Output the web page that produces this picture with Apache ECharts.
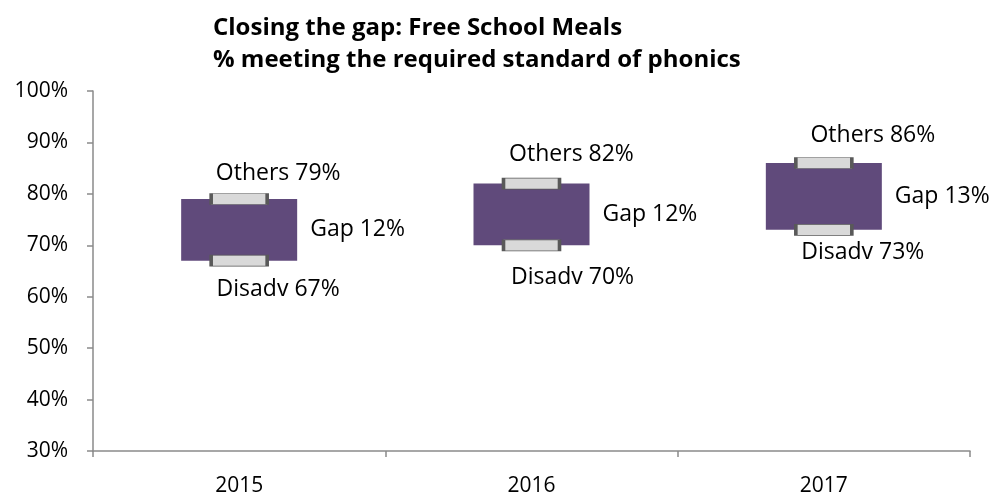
<!DOCTYPE html>
<html>
<head>
<meta charset="utf-8">
<script src="https://cdn.jsdelivr.net/npm/echarts@6/dist/echarts.min.js"></script>
<style>
  html, body { margin: 0; padding: 0; background: #fff; }
  #chart { width: 994px; height: 497px; }
</style>
</head>
<body>
<div id="chart"></div>
<script>
// Phonics screening: % of pupils meeting the required standard
const years = ['2015', '2016', '2017'];
const others = [79, 82, 86];   // non-disadvantaged pupils
const disadv = [67, 70, 73];   // pupils eligible for free school meals
const yTicks = [30, 40, 50, 60, 70, 80, 90, 100];

// gap between the two groups, in percentage points
const gap = others.map((v, i) => v - disadv[i]);

// label nudges (px) for the "Others" / "Disadv" annotations
const othersLabelOffset = [[39, -26], [40, -29], [49, -28]];
const disadvLabelOffset = [[39, 29], [41, 32], [39, 23]];

const FONT = 'Open Sans';
const TEXT = '#000000';
const AXIS = '#8a8a8a';
const LABEL_SIZE = 23;

const chart = echarts.init(document.getElementById('chart'), null, { renderer: 'canvas' });

// scatter defaults to 0.8 opacity; the end caps are solid
const capStyle = { color: '#d9d9d9', borderColor: '#595959', borderWidth: 1.6, opacity: 1 };

const pointLabel = (prefix) => ({
  show: true,
  position: 'inside',
  align: 'center',
  verticalAlign: 'middle',
  fontFamily: FONT,
  fontSize: LABEL_SIZE,
  color: TEXT,
  textBorderWidth: 0,
  formatter: p => prefix + ' ' + p.value + '%'
});

chart.setOption({
  animation: false,
  textStyle: { fontFamily: FONT, color: TEXT },
  title: {
    text: 'Closing the gap: Free School Meals\n% meeting the required standard of phonics',
    left: 208,
    top: 7,
    textStyle: { fontFamily: FONT, fontWeight: 'bold', fontSize: 24, lineHeight: 32, color: TEXT }
  },
  grid: { left: 93, right: 24, top: 91, bottom: 46, containLabel: false },
  xAxis: {
    type: 'category',
    data: years,
    boundaryGap: true,
    axisLine: { lineStyle: { color: AXIS, width: 1.5 } },
    axisTick: { show: true, length: 6, lineStyle: { color: AXIS, width: 1.5 } },
    axisLabel: { fontFamily: FONT, fontSize: 21, color: TEXT, margin: 25 }
  },
  yAxis: {
    type: 'value',
    min: yTicks[0],
    max: yTicks[yTicks.length - 1],
    interval: 10,
    splitLine: { show: false },
    axisLine: { show: true, lineStyle: { color: AXIS, width: 1.5 } },
    axisTick: { show: true, length: 6, lineStyle: { color: AXIS, width: 1.5 } },
    axisLabel: { fontFamily: FONT, fontSize: 21, color: TEXT, margin: 25, formatter: '{value}%' }
  },
  series: [
    {
      // invisible base so the gap box starts at the disadvantaged value
      name: 'base',
      type: 'bar',
      stack: 'range',
      data: disadv,
      barWidth: 116,
      silent: true,
      itemStyle: { color: 'rgba(0,0,0,0)' }
    },
    {
      name: 'Gap',
      type: 'bar',
      stack: 'range',
      data: gap,
      barWidth: 116,
      silent: true,
      itemStyle: { color: '#604a7b' },
      label: {
        show: true,
        position: 'right',
        distance: 13,
        fontFamily: FONT,
        fontSize: LABEL_SIZE,
        color: TEXT,
        formatter: p => 'Gap ' + p.value + '%'
      }
    },
    {
      name: 'Others',
      type: 'scatter',
      symbol: 'rect',
      symbolSize: [56, 11],
      silent: true,
      z: 5,
      itemStyle: capStyle,
      data: others.map((v, i) => ({ value: v, label: { offset: othersLabelOffset[i] } })),
      label: pointLabel('Others')
    },
    {
      name: 'Disadv',
      type: 'scatter',
      symbol: 'rect',
      symbolSize: [56, 11],
      silent: true,
      z: 5,
      itemStyle: capStyle,
      data: disadv.map((v, i) => ({ value: v, label: { offset: disadvLabelOffset[i] } })),
      label: pointLabel('Disadv')
    }
  ]
});
</script>
</body>
</html>
